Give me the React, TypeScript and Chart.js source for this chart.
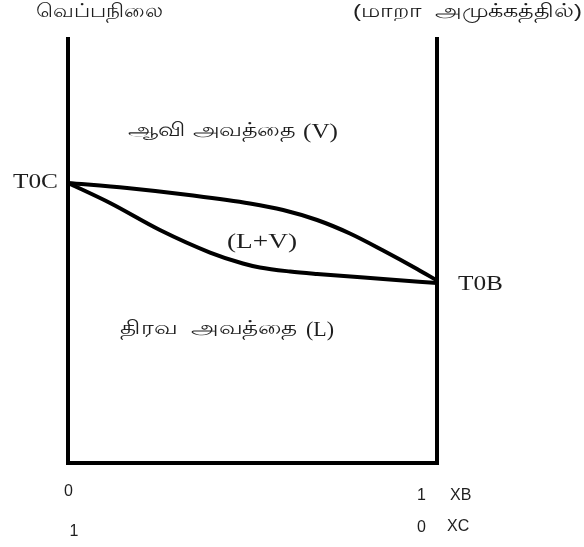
import React, { useEffect, useRef } from "react";
import { Chart, registerables } from "chart.js";

Chart.register(...registerables);

// composition of B (0..1) and temperature (arbitrary 0..100)
const vaporX = [0, 0.16, 0.339, 0.493, 0.583, 0.675, 0.764, 0.854, 0.946, 1];
const vaporT = [65.73, 64.55, 62.79, 60.92, 59.39, 57.04, 53.87, 49.88, 45.54, 42.84];
const liquidX = [0, 0.114, 0.249, 0.385, 0.474, 0.52, 0.602, 0.675, 0.854, 1];
const liquidT = [65.73, 61.03, 54.69, 49.41, 46.83, 45.89, 44.95, 44.37, 43.19, 42.25];
const frameX = [0, 0, 1, 1];
const frameT = [100, 0, 0, 100];

const topLeftLabel = "வெப்பநிலை";
const topRightLabel = "(மாறா  அமுக்கத்தில்)";
const vaporLabel = "ஆவி அவத்தை";
const liquidLabel = "திரவ  அவத்தை";
const tickXB = ["0", "1"];
const tickXC = ["1", "0"];

const toPts = (xs: number[], ys: number[]) => xs.map((x, i) => ({ x, y: ys[i] }));

const sans = "'Liberation Sans', Arial, sans-serif";
const serif = "'Liberation Serif', 'Times New Roman', serif";

function fit(ctx: any, text: string, font: string, x0: number, x1: number, cy: number) {
  ctx.save();
  ctx.font = font;
  ctx.textAlign = "left";
  ctx.textBaseline = "middle";
  const w = ctx.measureText(text).width || 1;
  ctx.translate(x0, cy);
  ctx.scale((x1 - x0) / w, 1);
  ctx.fillText(text, 0, 0);
  ctx.restore();
}

const textPlugin = {
  id: "texts",
  afterDraw(chart: any) {
    const ctx = chart.ctx;
    ctx.save();
    ctx.fillStyle = "#1e1e1e";
    // top labels
    fit(ctx, topLeftLabel, "19px " + sans, 36, 163, 12);
    fit(ctx, topRightLabel, "19px " + sans, 353, 582, 12);
    // region labels
    fit(ctx, vaporLabel, "19px " + sans, 128, 295, 131);
    fit(ctx, "(V)", "21px " + serif, 303, 338, 132);
    fit(ctx, liquidLabel, "19px " + sans, 120, 297, 329);
    fit(ctx, "(L)", "21px " + serif, 306, 334, 330);
    fit(ctx, "(L+V)", "21px " + serif, 227, 297, 242);
    // end point labels
    fit(ctx, "T0C", "20px " + serif, 13, 58, 183);
    fit(ctx, "T0B", "20px " + serif, 458, 503, 285);
    // tick labels
    ctx.font = "16px " + sans;
    ctx.textAlign = "center";
    ctx.textBaseline = "middle";
    ctx.fillText(tickXB[0], 68.5, 492);
    ctx.fillText(tickXB[1], 421.5, 496);
    ctx.fillText(tickXC[0], 74, 532);
    ctx.fillText(tickXC[1], 421.5, 528);
    ctx.textAlign = "left";
    ctx.fillText("XB", 450, 496);
    ctx.fillText("XC", 447, 527);
    ctx.restore();
  },
};

export default function App() {
  const ref = useRef<HTMLCanvasElement>(null);
  useEffect(() => {
    document.body.style.margin = "0";
    const chart = new Chart(ref.current!, {
      type: "scatter",
      data: {
        datasets: [
          {
            data: toPts(frameX, frameT),
            showLine: true,
            borderColor: "#000",
            borderWidth: 4,
            pointRadius: 0,
            clip: false as any,
            tension: 0,
          },
          {
            data: toPts(vaporX, vaporT),
            showLine: true,
            borderColor: "#000",
            borderWidth: 4,
            pointRadius: 0,
            cubicInterpolationMode: "monotone",
            clip: false as any,
          },
          {
            data: toPts(liquidX, liquidT),
            showLine: true,
            borderColor: "#000",
            borderWidth: 4,
            pointRadius: 0,
            cubicInterpolationMode: "monotone",
            clip: false as any,
          },
        ],
      },
      options: {
        animation: false,
        responsive: false,
        maintainAspectRatio: false,
        layout: { padding: { left: 68, right: 147, top: 37, bottom: 84 } },
        plugins: { legend: { display: false }, tooltip: { enabled: false } },
        scales: {
          x: { type: "linear", min: 0, max: 1, display: false },
          y: { type: "linear", min: 0, max: 100, display: false },
        },
      },
      plugins: [textPlugin],
    });
    return () => chart.destroy();
  }, []);
  return (
    <div style={{ width: 584, height: 547, background: "#fff" }}>
      <canvas ref={ref} width={584} height={547} style={{ display: "block" }} />
    </div>
  );
}
